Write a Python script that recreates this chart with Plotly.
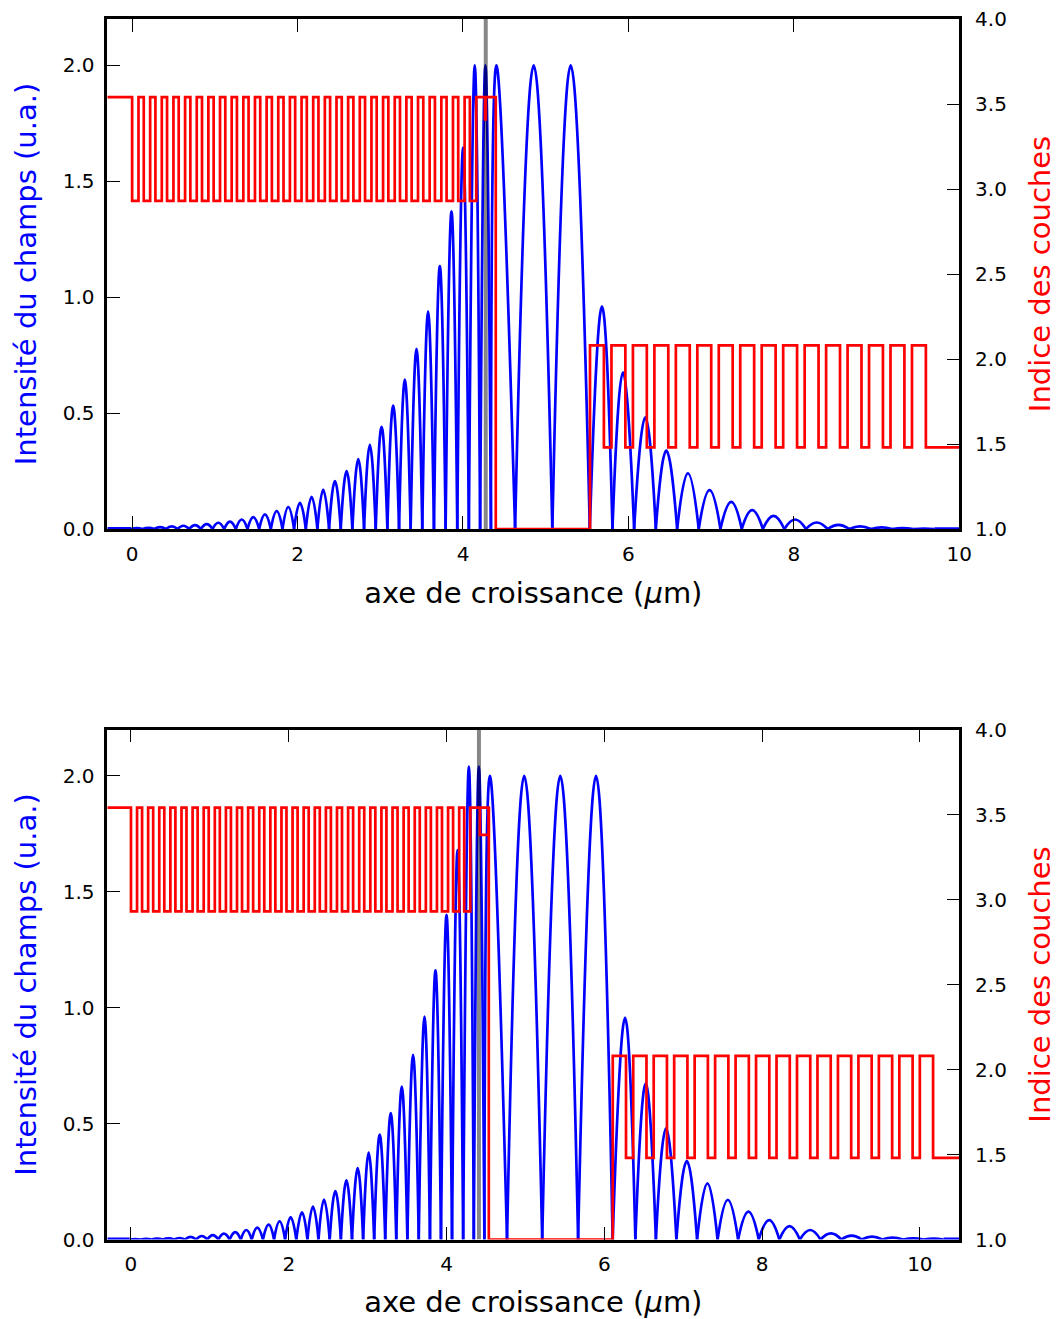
import numpy as np
import plotly.graph_objects as go

# ---------------- data ----------------
# top panel : field intensity arches (zeros / peaks), units µm and a.u.
top_zero_x = [-0.013, 0.127, 0.268, 0.409, 0.550, 0.690, 0.831, 0.972, 1.113, 1.254, 1.395,
              1.536, 1.677, 1.818, 1.958, 2.100, 2.240, 2.381, 2.522, 2.663, 2.804, 2.945,
              3.086, 3.227, 3.367, 3.508, 3.649, 3.790, 3.931, 4.071, 4.207, 4.338, 4.630,
              5.080, 5.533, 5.807, 6.069, 6.331, 6.589, 6.850, 7.112, 7.370, 7.625, 7.885,
              8.146, 8.408, 8.670, 8.932, 9.189, 9.446, 9.700]
top_peak_x = [0.057, 0.197, 0.338, 0.479, 0.620, 0.761, 0.902, 1.042, 1.183, 1.325, 1.465,
              1.606, 1.748, 1.888, 2.029, 2.170, 2.310, 2.452, 2.593, 2.734, 2.874, 3.016,
              3.156, 3.297, 3.438, 3.578, 3.720, 3.861, 4.001, 4.142, 4.271, 4.404, 4.855,
              5.302, 5.680, 5.934, 6.204, 6.458, 6.719, 6.981, 7.243, 7.496, 7.754, 8.015,
              8.276, 8.539, 8.801, 9.062, 9.315, 9.577]
top_peak_y = [0.004, 0.005, 0.008, 0.011, 0.014, 0.017, 0.021, 0.027, 0.032, 0.041, 0.051,
              0.063, 0.077, 0.094, 0.113, 0.139, 0.169, 0.207, 0.250, 0.301, 0.363, 0.441,
              0.532, 0.644, 0.777, 0.939, 1.134, 1.370, 1.645, 2.0, 2.0, 2.0, 2.0,
              2.0, 0.96, 0.676, 0.482, 0.338, 0.240, 0.168, 0.117, 0.081, 0.057, 0.041,
              0.028, 0.018, 0.011, 0.007, 0.004, 0.002]
top_head_x, top_head_y = [-0.30, -0.013], [0.003, 0.003]
top_tail_x, top_tail_y = [9.70, 10.0], [0.002, 0.002]

# bottom panel
bot_zero_x = [-0.017, 0.123, 0.262, 0.404, 0.545, 0.685, 0.826, 0.968, 1.108, 1.250, 1.392,
              1.531, 1.673, 1.814, 1.954, 2.096, 2.237, 2.377, 2.519, 2.661, 2.802, 2.943,
              3.083, 3.223, 3.363, 3.504, 3.648, 3.790, 3.930, 4.070, 4.211, 4.346, 4.480,
              4.767, 5.213, 5.668, 6.106, 6.394, 6.654, 6.914, 7.176, 7.436, 7.696, 7.958,
              8.219, 8.479, 8.741, 9.004, 9.264, 9.524, 9.786, 10.046, 10.300]
bot_peak_x = [0.053, 0.193, 0.332, 0.476, 0.615, 0.755, 0.898, 1.038, 1.178, 1.322, 1.462,
              1.601, 1.745, 1.884, 2.024, 2.168, 2.307, 2.447, 2.591, 2.731, 2.874, 3.013,
              3.153, 3.293, 3.433, 3.576, 3.721, 3.860, 4.000, 4.140, 4.283, 4.410, 4.550,
              4.985, 5.442, 5.895, 6.263, 6.525, 6.783, 7.046, 7.307, 7.566, 7.827, 8.090,
              8.348, 8.610, 8.873, 9.135, 9.393, 9.655, 9.918, 10.175]
bot_peak_y = [0.002, 0.003, 0.004, 0.005, 0.0065, 0.011, 0.015, 0.019, 0.025, 0.032, 0.041,
              0.051, 0.064, 0.078, 0.096, 0.117, 0.142, 0.172, 0.209, 0.255, 0.308, 0.375,
              0.452, 0.545, 0.66, 0.797, 0.962, 1.161, 1.40, 1.68, 2.04, 2.04, 2.0,
              2.0, 2.0, 2.0, 0.956, 0.673, 0.479, 0.338, 0.242, 0.171, 0.12, 0.084,
              0.058, 0.041, 0.026, 0.017, 0.012, 0.008, 0.005, 0.004]
bot_head_x, bot_head_y = [-0.30, -0.017], [0.003, 0.003]
bot_tail_x, bot_tail_y = [10.30, 10.5], [0.003, 0.003]

# layer stacks: index, thickness (µm), repetitions of each section
top_start = -0.30
top_sec_n = [[3.54], [2.93, 3.54], [2.93], [3.54], [1.0], [2.08, 1.48], [2.08], [1.48]]
top_sec_t = [[0.30], [0.0772, 0.0636], [0.0772], [0.236], [1.139], [0.168, 0.0915], [0.168], [0.5]]
top_sec_rep = [1, 29, 1, 1, 1, 15, 1, 1]
top_qw_x, top_qw_n = [4.266, 4.276], 3.41

bot_start = -0.30
bot_sec_n = [[3.54], [2.93, 3.54], [2.93], [3.54], [1.0], [2.08, 1.48], [2.08], [1.48]]
bot_sec_t = [[0.30], [0.0772, 0.0636], [0.0772], [0.235], [1.571], [0.168, 0.0915], [0.168], [0.5]]
bot_sec_rep = [1, 30, 1, 1, 1, 15, 1, 1]
bot_qw_x, bot_qw_n = [4.423, 4.535], 3.38

top_marker_x = 4.275
bot_marker_x = 4.411

x_ticks = [0, 2, 4, 6, 8, 10]
y_ticks = [0.0, 0.5, 1.0, 1.5, 2.0]
n_ticks = [1.0, 1.5, 2.0, 2.5, 3.0, 3.5, 4.0]

BLUE = "rgb(0,0,255)"
RED = "rgb(255,0,0)"
FONT = "DejaVu Sans"


def arches(zx, px, py, hx, hy, tx, ty):
    xs, ys = list(hx) + [None], list(hy) + [None]
    for i in range(len(px)):
        xs += [zx[i], px[i], zx[i + 1], None]
        ys += [0.0, py[i], 0.0, None]
    xs += list(tx)
    ys += list(ty)
    return xs, ys


def stack(start, sec_n, sec_t, sec_rep):
    ns, ts = [], []
    for n, t, r in zip(sec_n, sec_t, sec_rep):
        ns += n * r
        ts += t * r
    edges = start + np.concatenate([[0.0], np.cumsum(ts)])
    return list(edges), ns + [ns[-1]]


fig = go.Figure()

panels = [
    dict(zx=top_zero_x, px=top_peak_x, py=top_peak_y, hx=top_head_x, hy=top_head_y,
         tx=top_tail_x, ty=top_tail_y, start=top_start, sn=top_sec_n, st=top_sec_t,
         sr=top_sec_rep, qx=top_qw_x, qn=top_qw_n, mx=top_marker_x,
         xa="x", ya="y", ya2="y2"),
    dict(zx=bot_zero_x, px=bot_peak_x, py=bot_peak_y, hx=bot_head_x, hy=bot_head_y,
         tx=bot_tail_x, ty=bot_tail_y, start=bot_start, sn=bot_sec_n, st=bot_sec_t,
         sr=bot_sec_rep, qx=bot_qw_x, qn=bot_qw_n, mx=bot_marker_x,
         xa="x2", ya="y3", ya2="y4"),
]

for p in panels:
    bx, by = arches(p["zx"], p["px"], p["py"], p["hx"], p["hy"], p["tx"], p["ty"])
    fig.add_trace(go.Scatter(x=bx, y=by, mode="lines", xaxis=p["xa"], yaxis=p["ya"],
                             line=dict(color=BLUE, width=2.7, shape="spline", smoothing=1.3),
                             showlegend=False, hoverinfo="skip", connectgaps=False))
    fig.add_trace(go.Scatter(x=[p["mx"], p["mx"]], y=[0, 2.2], mode="lines",
                             xaxis=p["xa"], yaxis=p["ya"],
                             line=dict(color="rgba(0,0,0,0.47)", width=4),
                             showlegend=False, hoverinfo="skip"))
    ex, ny = stack(p["start"], p["sn"], p["st"], p["sr"])
    fig.add_trace(go.Scatter(x=ex, y=ny, mode="lines", xaxis=p["xa"], yaxis=p["ya2"],
                             line=dict(color=RED, width=2.7, shape="hv"),
                             showlegend=False, hoverinfo="skip"))
    n_hi = p["sn"][0][0]
    fig.add_trace(go.Scatter(x=[p["qx"][0], p["qx"][0], p["qx"][1], p["qx"][1]],
                             y=[n_hi, p["qn"], p["qn"], n_hi], mode="lines",
                             xaxis=p["xa"], yaxis=p["ya2"],
                             line=dict(color=RED, width=2.7),
                             showlegend=False, hoverinfo="skip"))

W, H = 1057, 1319
xdom = [107.3 / W, 959.3 / W]
top_dom = [1 - 529 / H, 1 - 19 / H]
bot_dom = [1 - 1239.5 / H, 1 - 729.5 / H]

tickfont = dict(family=FONT, size=20, color="black")
titlefont = 29


def xaxis(anchor, rng):
    return dict(domain=xdom, anchor=anchor, range=rng, tickvals=x_ticks,
                ticks="inside", ticklen=13, tickwidth=1.4, tickcolor="black",
                showline=True, linewidth=2.6, linecolor="black", mirror="ticks",
                showgrid=False, zeroline=False, tickfont=tickfont, automargin=False,
                ticklabelstandoff=5,
                title=dict(text="axe de croissance (<i>μ</i>m)",
                           font=dict(family=FONT, size=titlefont, color="black"),
                           standoff=18))


def yaxis(anchor, dom):
    return dict(domain=dom, anchor=anchor, range=[0, 2.2], tickvals=y_ticks,
                tickformat=".1f", ticks="inside", ticklen=13, tickwidth=1.4,
                tickcolor="black", showline=True, linewidth=2.6, linecolor="black",
                mirror=True, showgrid=False, zeroline=False, tickfont=tickfont,
                ticklabelstandoff=6, automargin=False,
                title=dict(text="Intensité du champs (u.a.)",
                           font=dict(family=FONT, size=titlefont, color=BLUE),
                           standoff=18))


def naxis(anchor, over):
    return dict(overlaying=over, anchor=anchor, side="right", range=[1, 4],
                tickvals=n_ticks, tickformat=".1f", ticks="inside", ticklen=13,
                tickwidth=1.4, tickcolor="black", showline=True, linewidth=2.6,
                linecolor="black", showgrid=False, zeroline=False, tickfont=tickfont,
                ticklabelstandoff=9, automargin=False,
                title=dict(text="Indice des couches",
                           font=dict(family=FONT, size=titlefont, color=RED),
                           standoff=25))


fig.update_layout(
    width=W, height=H, autosize=False, margin=dict(l=0, r=0, t=0, b=0, pad=0),
    paper_bgcolor="white", plot_bgcolor="white",
    font=dict(family=FONT),
    xaxis=xaxis("y", [-0.3, 10.0]),
    yaxis=yaxis("x", top_dom),
    yaxis2=naxis("x", "y"),
    xaxis2=xaxis("y3", [-0.3, 10.5]),
    yaxis3=yaxis("x2", bot_dom),
    yaxis4=naxis("x2", "y3"),
)

fig.write_html("out.html", config={"displayModeBar": False, "responsive": False},
               post_script="document.body.style.margin='0';")
